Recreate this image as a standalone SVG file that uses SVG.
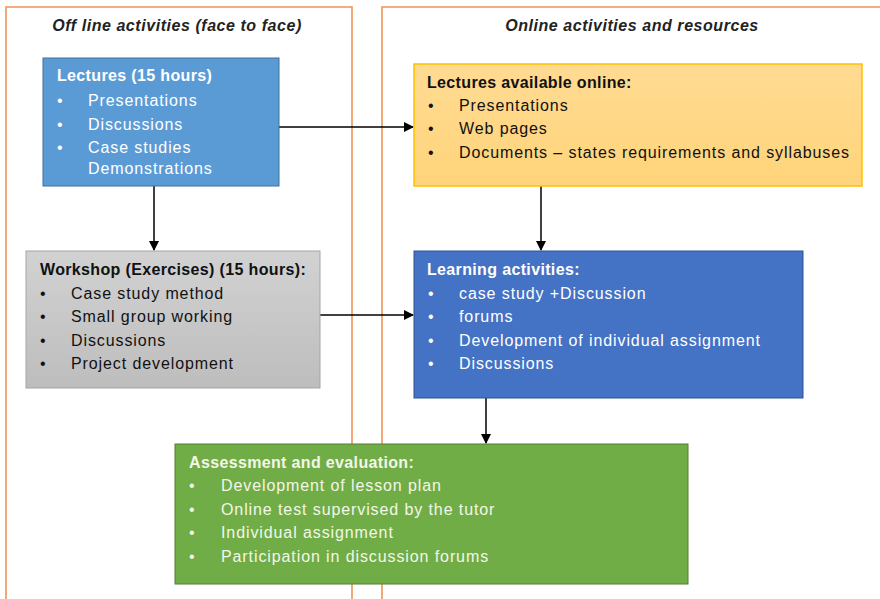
<svg xmlns="http://www.w3.org/2000/svg" width="880" height="599" viewBox="0 0 880 599">
<style>
.frame{fill:none;stroke:#EE9458;stroke-width:1.6}
.hdr{font-family:"Liberation Sans",Arial,sans-serif;font-size:16px;font-style:italic;font-weight:bold;fill:#222;letter-spacing:0.55px}
.t{font-family:"Liberation Sans",Arial,sans-serif;font-size:16px;letter-spacing:0.9px}
.b{font-weight:bold;letter-spacing:0.35px}
.w{fill:#ffffff}
.a{fill:#F4F6E8}
.k{fill:#111111}
.conn{stroke:#000;stroke-width:1.5;fill:none}
</style>
<defs>
<marker id="ah" markerWidth="10" markerHeight="10" refX="9" refY="5" orient="auto" markerUnits="userSpaceOnUse">
<path d="M0,0 L10,5 L0,10 z" fill="#000"/>
</marker>
<linearGradient id="gy" x1="0" y1="0" x2="0" y2="1">
<stop offset="0" stop-color="#FFDB93"/><stop offset="1" stop-color="#FFD47A"/>
</linearGradient>
<linearGradient id="gg" x1="0" y1="0" x2="0" y2="1">
<stop offset="0" stop-color="#D2D2D2"/><stop offset="1" stop-color="#BDBDBD"/>
</linearGradient>
</defs>
<rect width="880" height="599" fill="#fff"/>
<g id="frames">
<path class="frame" d="M6,610 V7 H352 V610"/>
<path class="frame" d="M382,610 V7 H890"/>
<text class="hdr" x="177" y="31" text-anchor="middle">Off line activities (face to face)</text>
<text class="hdr" x="632" y="31" text-anchor="middle">Online activities and resources</text>
</g>
<g id="connectors">
<path class="conn" d="M279,127 H413" marker-end="url(#ah)"/>
<path class="conn" d="M154,186 V250" marker-end="url(#ah)"/>
<path class="conn" d="M320,315 H413" marker-end="url(#ah)"/>
<path class="conn" d="M541,186 V250" marker-end="url(#ah)"/>
<path class="conn" d="M486,398 V443" marker-end="url(#ah)"/>
</g>
<g id="lectures">
<rect x="43" y="58" width="236" height="128" fill="#5B9BD5" stroke="#41719C" stroke-width="1"/>
<text class="t b w" x="57" y="81">Lectures (15 hours)</text>
<text class="t w" x="57" y="106">•</text><text class="t w" x="88" y="106">Presentations</text>
<text class="t w" x="57" y="130">•</text><text class="t w" x="88" y="130">Discussions</text>
<text class="t w" x="57" y="153">•</text><text class="t w" x="88" y="153">Case studies</text>
<text class="t w" x="88" y="174">Demonstrations</text>
</g>
<g id="online">
<rect x="414" y="64" width="448" height="122" fill="url(#gy)" stroke="#FFC000" stroke-width="1.5"/>
<text class="t b k" x="427" y="88">Lectures available online:</text>
<text class="t k" x="428" y="111">•</text><text class="t k" x="459" y="111">Presentations</text>
<text class="t k" x="428" y="134">•</text><text class="t k" x="459" y="134">Web pages</text>
<text class="t k" x="428" y="158">•</text><text class="t k" x="459" y="158">Documents – states requirements and syllabuses</text>
</g>
<g id="workshop">
<rect x="26" y="251" width="294" height="137" fill="url(#gg)" stroke="#A5A5A5" stroke-width="1"/>
<text class="t b k" x="40" y="275">Workshop (Exercises) (15 hours):</text>
<text class="t k" x="40" y="299">•</text><text class="t k" x="71" y="299">Case study method</text>
<text class="t k" x="40" y="322">•</text><text class="t k" x="71" y="322">Small group working</text>
<text class="t k" x="40" y="346">•</text><text class="t k" x="71" y="346">Discussions</text>
<text class="t k" x="40" y="369">•</text><text class="t k" x="71" y="369">Project development</text>
</g>
<g id="learning">
<rect x="414" y="251" width="389" height="147" fill="#4472C4" stroke="#2F528F" stroke-width="1"/>
<text class="t b w" x="427" y="275">Learning activities:</text>
<text class="t w" x="428" y="299">•</text><text class="t w" x="459" y="299">case study +Discussion</text>
<text class="t w" x="428" y="322">•</text><text class="t w" x="459" y="322">forums</text>
<text class="t w" x="428" y="346">•</text><text class="t w" x="459" y="346">Development of individual assignment</text>
<text class="t w" x="428" y="369">•</text><text class="t w" x="459" y="369">Discussions</text>
</g>
<g id="assessment">
<rect x="175" y="444" width="513" height="140" fill="#70AD47" stroke="#507E32" stroke-width="1"/>
<text class="t b a" x="189" y="468">Assessment and evaluation:</text>
<text class="t a" x="189" y="491">•</text><text class="t a" x="221" y="491">Development of lesson plan</text>
<text class="t a" x="189" y="515">•</text><text class="t a" x="221" y="515">Online test supervised by the tutor</text>
<text class="t a" x="189" y="538">•</text><text class="t a" x="221" y="538">Individual assignment</text>
<text class="t a" x="189" y="562">•</text><text class="t a" x="221" y="562">Participation in discussion forums</text>
</g>
</svg>
